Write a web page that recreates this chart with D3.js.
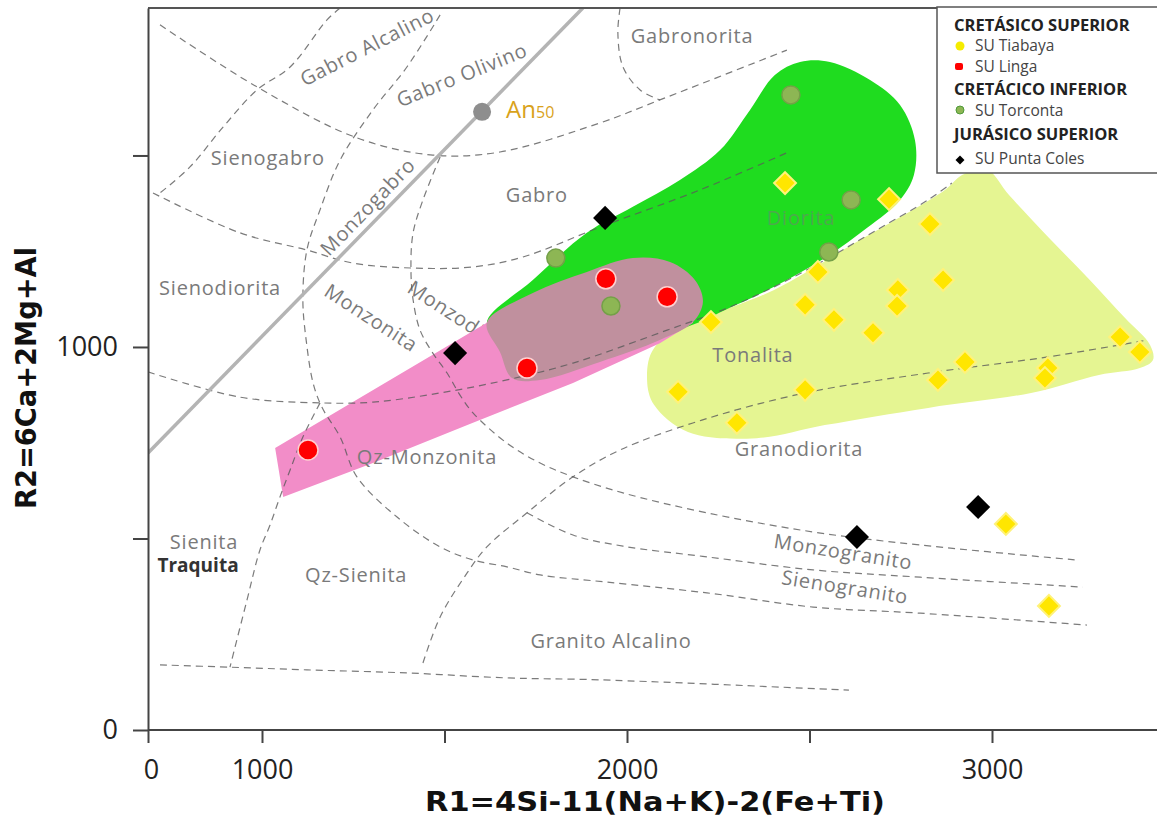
<!DOCTYPE html>
<html>
<head>
<meta charset="utf-8">
<script src="https://cdn.jsdelivr.net/npm/d3@7/dist/d3.min.js"></script>
<style>
  body { margin: 0; background: #fff; }
</style>
</head>
<body>
<div id="grafico"></div>
<script>
// Muestras (R1, R2)
var tiabaya = [[2433,1428],[2718,1386],[2830,1321],[2523,1196],[2866,1175],[2742,1149],
  [2740,1107],[2488,1110],[2567,1071],[2674,1037],[2230,1065],[3351,1026],[3405,987],
  [2926,961],[2852,914],[3153,945],[3145,919],[2140,883],[2488,888],[2301,802],
  [3038,538],[3156,324]];
var linga = [[1126,731],[1726,945],[1942,1178],[2110,1131]];
var torconta = [[2449,1658],[2614,1384],[2553,1248],[1805,1232],[1956,1107]];
var puntaColes = [[1940,1337],[1529,984],[2630,504],[2962,582]];
var an50 = [1603,1614];

// Campos sombreados
var campoTorconta = [[1616,1063],[1742,1175],[1890,1298],[2016,1366],[2145,1436],[2255,1514],
  [2337,1619],[2405,1710],[2474,1744],[2556,1744],[2666,1697],[2748,1632],[2789,1540],
  [2786,1449],[2748,1384],[2658,1311],[2542,1232],[2403,1157],[2263,1094],[2200,1065],
  [2036,1018],[1816,992],[1679,1005]];
var campoLinga = [[1036,736],[1323,898],[1616,1063],[1816,1123],[2036,1123],[2173,1097],
  [2181,1063],[2090,1010],[1852,906],[1578,802],[1304,697],[1058,608]];
var campoMezcla = [[1616,1063],[1742,1141],[1890,1196],[2016,1232],[2118,1222],[2186,1175],
  [2208,1118],[2181,1065],[2090,1018],[1926,961],[1762,914],[1685,919],[1652,987]];
var campoTiabaya = [[2055,914],[2074,997],[2216,1076],[2403,1149],[2638,1279],[2871,1410],
  [2918,1449],[2981,1467],[3049,1394],[3159,1282],[3268,1175],[3364,1076],[3433,1005],
  [3441,966],[3405,945],[3293,927],[3107,880],[2825,841],[2542,796],[2356,762],[2167,778],[2074,849]];

// Limites del diagrama R1-R2
var limites = [
  [[105,1841],[956,1679],[1260,1546],[1468,1501],[1652,1509],[1926,1585],[2090,1645],[2438,1775]],
  [[44,1402],[807,1298],[1123,1253],[1249,1219],[1414,1206],[1578,1209],[1715,1235],[1926,1313],[2200,1410],[2438,1507]],
  [[0,935],[807,869],[1159,854],[1304,856],[1488,880],[1671,914],[1852,958],[2110,1044],[2263,1097],[2403,1157],[2542,1227],[2685,1306],[2825,1384],[2890,1428]],
  [[1488,1496],[1441,1384],[1414,1298],[1408,1209],[1414,1123],[1433,1044],[1468,984],[1507,932],[1542,875],[1578,828],[1671,749],[1762,697],[1852,661],[1989,619],[2219,567],[2510,517],[2803,483],[3230,444]],
  [[1488,1867],[1397,1731],[1304,1619],[1214,1488],[1159,1358],[1123,1253],[1112,1123],[1121,1018],[1140,906],[1164,843],[1214,765],[1260,661],[1370,556],[1488,478],[1578,444],[1671,426],[1762,405],[1945,386],[2219,358],[2510,321],[2803,305],[3260,274]],
  [[1726,567],[1852,509],[1989,480],[2219,452],[2510,418],[2803,399],[3249,373]],
  [[1441,175],[1488,295],[1562,410],[1616,478],[1726,567],[1852,661],[1981,731],[2205,809],[2488,880],[2825,932],[3153,974],[3425,1018]],
  [[1159,854],[1112,765],[1077,679],[1049,608],[1022,535],[982,470],[868,339],[719,164]],
  [[105,170],[719,164],[1123,157],[1397,149],[1671,136],[1926,131],[2608,104]],
  [[1214,1885],[1178,1854],[1077,1731],[956,1671],[658,1574],[368,1470],[105,1402]],
  [[1981,1885],[1975,1820],[1989,1731],[2036,1671],[2090,1645]]
];
var lineaAn = [[0,723],[1879,1885]];

// Nombres de campos: texto, R1, R2, giro
var nombres = [
  ["Gabro Alcalino",1288,1783,-27],["Gabro Olivino",1548,1710,-22],["Gabronorita",2178,1812,0],
  ["Sienogabro",1016,1493,0],["Gabro",1753,1397,0],["Monzogabro",1290,1366,-46],
  ["Sienodiorita",632,1154,0],["Monzonita",1299,1076,33],["Tonalita",2345,979,0],
  ["Granodiorita",2471,734,0],["Qz-Monzonita",1452,713,0],["Monzogranito",2592,465,9],
  ["Sienogranito",2597,373,9],["Sienita",491,491,0],["Qz-Sienita",1258,405,0],
  ["Granito Alcalino",1956,232,0]
];

var ticksR1 = [0,1000,1500,2000,2500,3000];
var etiquetasR1 = [0,1000,2000,3000];
var ticksR2 = [0,500,1000,1500];
var etiquetasR2 = [0,1000];

var ancho = 1157, alto = 821;
var fuente = "'Open Sans', 'DejaVu Sans', sans-serif";
var fuenteEje = "'DejaVu Sans', sans-serif";

var svg = d3.select("#grafico").append("svg")
  .attr("width", ancho).attr("height", alto);

// escala R1 con el tramo 0-1000 comprimido, como en el original
var x = d3.scaleLinear().domain([0, 1000, 3500]).range([148, 262, 1174.5]);
var y = d3.scaleLinear().domain([0, 1885]).range([730, 8]);

svg.append("clipPath").attr("id", "area")
  .append("rect").attr("x", 148).attr("y", 8).attr("width", ancho - 148).attr("height", 722);

var plot = svg.append("g").attr("clip-path", "url(#area)");

var linea = d3.line().x(function(d){ return x(d[0]); }).y(function(d){ return y(d[1]); });
var curva = d3.line().x(function(d){ return x(d[0]); }).y(function(d){ return y(d[1]); })
  .curve(d3.curveCatmullRom.alpha(0.5));
var cerrada = d3.line().x(function(d){ return x(d[0]); }).y(function(d){ return y(d[1]); })
  .curve(d3.curveCatmullRomClosed.alpha(0.5));

// Monzodiorita queda tapado en parte por los campos
plot.append("text")
  .text("Monzodiorita")
  .attr("transform", "translate(" + x(1559) + "," + y(1065) + ") rotate(33)")
  .attr("text-anchor", "middle").attr("dy", "0.35em")
  .attr("font-family", fuente).attr("font-size", 20).attr("letter-spacing", 0.8).attr("fill", "#7a7a7a");

// campos
plot.append("path").attr("d", cerrada(campoTiabaya)).attr("fill", "#e5f592");
plot.append("path").attr("d", cerrada(campoTorconta)).attr("fill", "#1fdc1f");
plot.append("path").attr("d", linea(campoLinga) + "Z").attr("fill", "#f28dc8");
plot.append("path").attr("d", cerrada(campoMezcla)).attr("fill", "#c0909e");

// limites discontinuos
plot.append("g").selectAll("path")
  .data(limites)
  .enter()
  .append("path")
  .attr("d", curva)
  .attr("fill", "none")
  .attr("stroke", "#5a5a5a")
  .attr("stroke-opacity", 0.8)
  .attr("stroke-width", 1.2)
  .attr("stroke-dasharray", "7,5");

// linea An50
plot.append("path").attr("d", linea(lineaAn))
  .attr("stroke", "#b4b4b4").attr("stroke-width", 3.5).attr("fill", "none");

// nombres
plot.append("g").selectAll("text")
  .data(nombres)
  .enter()
  .append("text")
  .text(function(d){ return d[0]; })
  .attr("transform", function(d){
    return "translate(" + x(d[1]) + "," + y(d[2]) + ") rotate(" + d[3] + ")";
  })
  .attr("text-anchor", "middle").attr("dy", "0.35em")
  .attr("font-family", fuente).attr("font-size", 20).attr("letter-spacing", 0.8).attr("fill", "#7a7a7a");

plot.append("text").text("Diorita")
  .attr("x", x(2477)).attr("y", y(1337)).attr("dy", "0.35em").attr("text-anchor", "middle")
  .attr("font-family", fuente).attr("font-size", 20).attr("letter-spacing", 0.8).attr("fill", "#4ea84e");

plot.append("text").text("Traquita")
  .attr("x", x(439)).attr("y", y(430)).attr("dy", "0.35em").attr("text-anchor", "middle")
  .attr("font-family", fuente).attr("font-size", 19).attr("font-weight", "bold").attr("fill", "#333");

// punto An50
plot.append("circle").attr("cx", x(an50[0])).attr("cy", y(an50[1])).attr("r", 9).attr("fill", "#8e8e8e");
var an = plot.append("text")
  .attr("x", x(an50[0]) + 24).attr("y", y(an50[1])).attr("dy", "0.38em")
  .attr("font-family", fuente).attr("fill", "#d9a21b");
an.append("tspan").text("An").attr("font-size", 24);
an.append("tspan").text("50").attr("font-size", 16);

// muestras
var cuadro = d3.symbol().type(d3.symbolSquare);

plot.append("g").selectAll("path")
  .data(tiabaya)
  .enter()
  .append("path")
  .attr("d", cuadro.size(240)())
  .attr("transform", function(d){ return "translate(" + x(d[0]) + "," + y(d[1]) + ") rotate(45)"; })
  .attr("fill", "#ffe600")
  .attr("stroke", "#fff27a").attr("stroke-width", 2);

plot.append("g").selectAll("path")
  .data(puntaColes)
  .enter()
  .append("path")
  .attr("d", cuadro.size(290)())
  .attr("transform", function(d){ return "translate(" + x(d[0]) + "," + y(d[1]) + ") rotate(45)"; })
  .attr("fill", "#000");

plot.append("g").selectAll("circle")
  .data(torconta)
  .enter()
  .append("circle")
  .attr("cx", function(d){ return x(d[0]); })
  .attr("cy", function(d){ return y(d[1]); })
  .attr("r", 9)
  .attr("fill", "#8db654")
  .attr("stroke", "#74a048").attr("stroke-width", 1.5);

plot.append("g").selectAll("circle")
  .data(linga)
  .enter()
  .append("circle")
  .attr("cx", function(d){ return x(d[0]); })
  .attr("cy", function(d){ return y(d[1]); })
  .attr("r", 10)
  .attr("fill", "#ff0000")
  .attr("stroke", "#ffd0d0").attr("stroke-width", 1.5);

// marco superior
svg.append("line").attr("x1", 148).attr("x2", ancho).attr("y1", 8).attr("y2", 8)
  .attr("stroke", "#555").attr("stroke-width", 2);

// ejes
var ejeX = svg.append("g")
  .attr("transform", "translate(0,730)")
  .call(d3.axisBottom(x).tickValues(ticksR1).tickSize(13).tickPadding(17).tickSizeOuter(0)
    .tickFormat(function(d){ return etiquetasR1.indexOf(d) >= 0 ? d : ""; }));
ejeX.select(".domain").attr("d", "M148,0H" + ancho);

var ejeY = svg.append("g")
  .attr("transform", "translate(148,0)")
  .call(d3.axisLeft(y).tickValues(ticksR2).tickSize(15).tickPadding(15).tickSizeOuter(0)
    .tickFormat(function(d){ return etiquetasR2.indexOf(d) >= 0 ? d : ""; }));

svg.selectAll(".domain").attr("stroke", "#444").attr("stroke-width", 2);
svg.selectAll(".tick line").attr("stroke", "#444").attr("stroke-width", 2);
svg.selectAll(".tick text").attr("font-family", fuente).attr("font-size", 27).attr("fill", "#222");
ejeX.selectAll(".tick text").filter(function(d){ return d === 0; }).attr("dx", 3);

// titulos de ejes
svg.append("text")
  .text("R1=4Si-11(Na+K)-2(Fe+Ti)")
  .attr("x", 655).attr("y", 811)
  .attr("text-anchor", "middle")
  .attr("textLength", 460).attr("lengthAdjust", "spacingAndGlyphs")
  .attr("font-family", fuenteEje).attr("font-size", 27).attr("font-weight", "bold").attr("fill", "#111");

svg.append("text")
  .text("R2=6Ca+2Mg+Al")
  .attr("transform", "translate(36,378) rotate(-90)")
  .attr("text-anchor", "middle")
  .attr("textLength", 262).attr("lengthAdjust", "spacingAndGlyphs")
  .attr("font-family", fuenteEje).attr("font-size", 28).attr("font-weight", "bold").attr("fill", "#111");

// leyenda
var leyenda = svg.append("g").attr("class", "leyenda");
leyenda.append("rect")
  .attr("x", 937).attr("y", 7).attr("width", 240).attr("height", 166)
  .attr("fill", "#fff").attr("stroke", "#555").attr("stroke-width", 1.5);

var grupos = [
  ["CRETÁSICO SUPERIOR", 25, "titulo"],
  ["SU Tiabaya", 46, "tiabaya"],
  ["SU Linga", 67, "linga"],
  ["CRETÁCICO INFERIOR", 89, "titulo"],
  ["SU Torconta", 111, "torconta"],
  ["JURÁSICO SUPERIOR", 134, "titulo"],
  ["SU Punta Coles", 159, "puntaColes"]
];

leyenda.selectAll("text")
  .data(grupos)
  .enter()
  .append("text")
  .text(function(d){ return d[0]; })
  .attr("x", function(d){ return d[2] === "titulo" ? 954 : 975; })
  .attr("y", function(d){ return d[1]; })
  .attr("dy", "0.35em")
  .attr("font-family", fuente)
  .attr("font-size", function(d){ return d[2] === "titulo" ? 16.5 : 15.5; })
  .attr("font-weight", function(d){ return d[2] === "titulo" ? "bold" : "normal"; })
  .attr("fill", function(d){ return d[2] === "titulo" ? "#222" : "#444"; });

leyenda.append("circle").attr("cx", 960).attr("cy", 46).attr("r", 4.5).attr("fill", "#f5ec00");
leyenda.append("rect").attr("x", 955).attr("y", 63).attr("width", 8).attr("height", 7).attr("rx", 2).attr("fill", "#ff0000");
leyenda.append("circle").attr("cx", 960).attr("cy", 110).attr("r", 4).attr("fill", "#8db654").attr("stroke", "#4f9a3a");
leyenda.append("path").attr("d", cuadro.size(40)())
  .attr("transform", "translate(960,160) rotate(45)").attr("fill", "#000");
</script>
</body>
</html>
